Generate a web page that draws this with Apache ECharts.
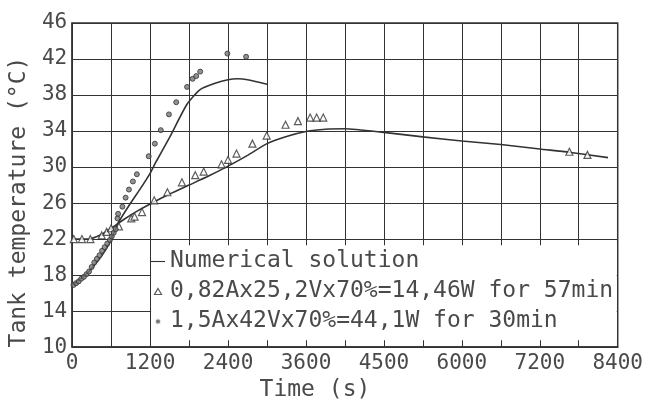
<!DOCTYPE html>
<html>
<head>
<meta charset="utf-8">
<script src="https://cdn.jsdelivr.net/npm/echarts@6/dist/echarts.min.js"></script>
<style>html,body{margin:0;padding:0;background:#fff}#c{width:646px;height:407px}</style>
</head>
<body>
<div id="c"></div>
<script>
const xTickLabels = ['0','1200','2400','3600','4500','6000','7200','8400'];
const yTickLabels = ['10','14','18','22','26','30','34','38','42','46'];
const seriesNames = ['Numerical solution', '0,82Ax25,2Vx70%=14,46W for 57min', '1,5Ax42Vx70%=44,1W for 30min'];

// numerical solution, 30 min case
const numLine30 = [[0,16.9],[230,18.2],[450,20.1],[580,21.6],[650,22.8],[700,23.7],[900,26.0],[1050,27.6],[1200,29.3],[1300,30.7],[1500,33.3],[1770,37.0],[1970,38.6],[2200,39.3],[2400,39.7],[2550,39.8],[2700,39.7],[3000,39.2]];
// numerical solution, 57 min case
const numLine57 = [[0,22.0],[250,22.0],[450,22.5],[600,23.2],[800,24.2],[1000,25.1],[1200,25.9],[1500,27.0],[1800,28.0],[2100,29.0],[2400,30.1],[2700,31.3],[3000,32.6],[3300,33.4],[3600,33.95],[3900,34.2],[4200,34.25],[4800,33.85],[5400,33.35],[6000,32.9],[6600,32.5],[7200,32.0],[7650,31.65],[8250,31.05]];
// measured, 57 min (triangles)
const points57 = [[25,22.0],[150,22.0],[280,22.0],[455,22.4],[530,22.8],[600,23.2],[720,23.4],[910,24.3],[960,24.5],[1075,25.0],[1263,26.3],[1466,27.2],[1690,28.3],[1895,29.1],[2025,29.5],[2299,30.3],[2400,30.8],[2530,31.5],[2775,32.6],[2995,33.5],[3285,34.7],[3476,35.1],[3664,35.5],[3764,35.5],[3866,35.5],[7656,31.7],[7934,31.35]];
// measured, 30 min (dots)
const points30 = [[20,16.9],[60,17.1],[100,17.3],[140,17.6],[180,17.8],[220,18.1],[260,18.4],[300,18.9],[340,19.4],[380,19.8],[420,20.2],[460,20.7],[500,21.1],[540,21.5],[580,21.9],[610,22.3],[640,22.7],[670,23.1],[697,24.3],[707,24.8],[773,25.6],[823,26.6],[874,27.5],[935,28.4],[996,29.2],[1178,31.2],[1273,32.6],[1364,34.1],[1490,35.85],[1602,37.2],[1769,38.9],[1854,39.8],[1910,40.1],[1971,40.6],[2390,42.6],[2678,42.25]];

const FONT = 'DejaVu Sans Mono';
const INK = '#333';
const TXT = '#4a4a4a';

const chart = echarts.init(document.getElementById('c'), null, {renderer: 'canvas'});
chart.setOption({
  animation: false,
  backgroundColor: '#fff',
  grid: {left: 70, right: 22, top: 23, bottom: 54, show: true, borderColor: INK, borderWidth: 1.5, backgroundColor: 'transparent'},
  xAxis: {
    type: 'value', min: 0, max: 8400, interval: 600,
    name: 'Time (s)', nameLocation: 'middle', nameGap: 31,
    nameTextStyle: {fontFamily: FONT, fontSize: 23, color: TXT, padding: [0, 60, 0, 0]},
    axisLine: {show: true, lineStyle: {color: INK, width: 1.5}},
    axisTick: {show: true, inside: true, length: 6, lineStyle: {color: INK}},
    splitLine: {show: true, lineStyle: {color: INK, width: 1}},
    axisLabel: {fontFamily: FONT, fontSize: 21, color: TXT, margin: 6,
      formatter: v => (v % 1200 === 0 ? xTickLabels[v / 1200] : '')}
  },
  yAxis: {
    type: 'value', min: 10, max: 46, interval: 4,
    name: 'Tank temperature (°C)', nameLocation: 'middle', nameGap: 38, nameRotate: 90,
    nameTextStyle: {fontFamily: FONT, fontSize: 23, color: TXT, padding: [0, 34, 0, 0]},
    axisLine: {show: true, lineStyle: {color: INK, width: 1.5}},
    axisTick: {show: false},
    splitLine: {show: true, lineStyle: {color: INK, width: 1}},
    axisLabel: {fontFamily: FONT, fontSize: 21, color: TXT, margin: 5,
      formatter: v => yTickLabels[(v - 10) / 4]}
  },
  legend: {
    data: [
      {name: seriesNames[0], icon: 'path://M0,0H20V1.6H0Z'},
      {name: seriesNames[1], icon: 'path://M20,0L40,34L0,34Z', itemStyle: {color: '#fff', borderColor: INK, borderWidth: 1.2}},
      {name: seriesNames[2], icon: 'circle', itemStyle: {color: '#555', borderColor: '#fff', borderWidth: 2}}
    ],
    orient: 'vertical', left: 151, top: 250, padding: 0,
    itemWidth: 14, itemHeight: 6, itemGap: 7, selectedMode: false, symbolKeepAspect: true,
    textStyle: {fontFamily: FONT, fontSize: 23, color: TXT, lineHeight: 23}
  },
  series: [
    {
      name: seriesNames[0], type: 'line', data: numLine30, symbol: 'none', smooth: 0.2,
      lineStyle: {color: INK, width: 1.6}, itemStyle: {color: INK}, z: 3,
      markArea: {silent: true, itemStyle: {color: '#fff'},
        data: [[{coord: [1215, 10.75]}, {coord: [8385, 21.3]}]]}
    },
    {
      name: seriesNames[0], type: 'line', data: numLine57, symbol: 'none', smooth: 0.2,
      lineStyle: {color: INK, width: 1.6}, itemStyle: {color: INK}, z: 3
    },
    {
      name: seriesNames[1], type: 'scatter', data: points57, symbol: 'triangle', symbolSize: 7,
      itemStyle: {color: '#fff', borderColor: INK, borderWidth: 1.2}, z: 4
    },
    {
      name: seriesNames[2], type: 'scatter', data: points30, symbol: 'circle', symbolSize: 5,
      itemStyle: {color: '#777', borderColor: INK, borderWidth: 1}, z: 4
    }
  ]
});
</script>
</body>
</html>
